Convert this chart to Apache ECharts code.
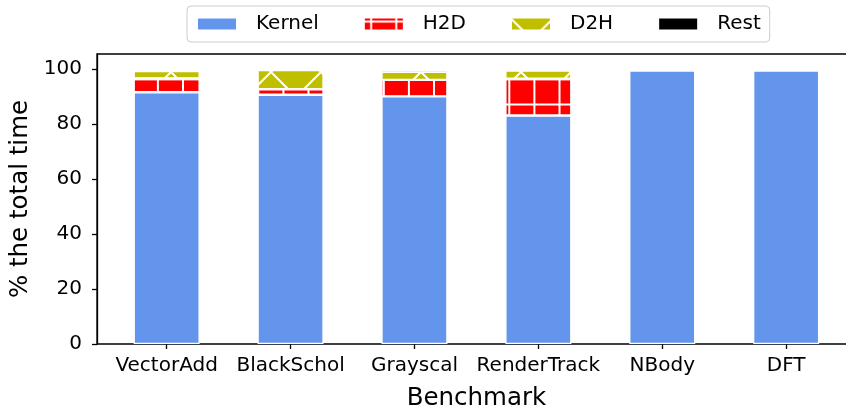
<!DOCTYPE html>
<html>
<head>
<meta charset="utf-8">
<script src="https://cdn.jsdelivr.net/npm/echarts@6/dist/echarts.min.js"></script>
<style>
html,body{margin:0;padding:0;background:#fff;}
#chart{width:846px;height:410px;}
</style>
</head>
<body>
<div id="chart"></div>
<script>
// ---- data ----
const categories = ['VectorAdd', 'BlackSchol', 'Grayscal', 'RenderTrack', 'NBody', 'DFT'];
const kernel = [91.6, 90.7, 90.1, 83.1, 99.5, 99.5];
const h2d    = [5.0, 2.0, 6.0, 13.4, 0, 0];
const d2h    = [2.7, 7.0, 2.9, 3.0, 0, 0];
const rest   = [0, 0, 0.7, 0, 0, 0];
const seriesNames = ['Kernel', 'H2D', 'D2H', 'Rest'];
const yTicks = [0, 20, 40, 60, 80, 100];

// ---- hatch patterns ----
function gridPattern() {
  const P = 25.1, W = 251;
  const c = document.createElement('canvas');
  c.width = W; c.height = W;
  const g = c.getContext('2d');
  g.fillStyle = '#ff0000'; g.fillRect(0, 0, W, W);
  g.fillStyle = '#ffffff';
  for (let k = -1; k <= 10; k++) {
    const x = 7.3 + k * P, y = 4.1 + k * P;
    g.fillRect(x - 1, 0, 2, W);
    g.fillRect(0, y - 1, W, 2);
  }
  return c;
}
function crossPattern() {
  const P = 50;
  const c = document.createElement('canvas');
  c.width = P; c.height = P;
  const g = c.getContext('2d');
  g.fillStyle = '#bfbf00'; g.fillRect(0, 0, P, P);
  g.strokeStyle = '#ffffff'; g.lineWidth = 2;
  for (let k = -2; k <= 2; k++) {
    const a = -1 + k * P;
    g.beginPath(); g.moveTo(a - 20, -20); g.lineTo(a + 80, 80); g.stroke();
    const b = 43 + k * P;
    g.beginPath(); g.moveTo(b + 20, -20); g.lineTo(b - 80, 80); g.stroke();
  }
  return c;
}

const fills = [
  '#6495ed',
  { image: gridPattern(), repeat: 'repeat' },
  { image: crossPattern(), repeat: 'repeat' },
  '#000000'
];
const values = [kernel, h2d, d2h, rest];

const font = 'DejaVu Sans';
const chart = echarts.init(document.getElementById('chart'), null, { renderer: 'canvas' });

const series = seriesNames.map((name, si) => ({
  name: name,
  type: 'bar',
  stack: 'total',
  xAxisIndex: 1,
  yAxisIndex: 1,
  barWidth: 66,
  data: values[si].map(v => (v === 0 ? '-' : v)),
  itemStyle: { color: fills[si], borderColor: '#ffffff', borderWidth: 1.2 },
  emphasis: { disabled: true }
}));

chart.setOption({
  animation: false,
  backgroundColor: '#ffffff',
  textStyle: { fontFamily: font },
  legend: {
    data: seriesNames,
    left: 187, top: 6,
    orient: 'horizontal',
    itemWidth: 40, itemHeight: 13, itemGap: 44,
    icon: 'rect',
    padding: [8, 9, 8, 9],
    borderColor: '#cccccc', borderWidth: 1, borderRadius: 4,
    backgroundColor: '#ffffff',
    textStyle: { fontFamily: font, fontSize: 20, color: '#000', padding: [0, 0, 0, 14] }
  },
  grid: [
    { // frame
      left: 97, top: 54, right: -10, bottom: 66,
      outerBoundsMode: 'none', containLabel: false,
      show: true, borderColor: '#000', borderWidth: 1.3, backgroundColor: 'transparent'
    },
    { // bars
      left: 104.7, width: 743.4, top: 54, bottom: 66,
      outerBoundsMode: 'none', containLabel: false, show: false
    }
  ],
  xAxis: [
    { gridIndex: 0, type: 'value', min: 0, max: 1, show: false },
    {
      gridIndex: 1,
      type: 'category',
      data: categories,
      boundaryGap: true,
      axisLine: { show: false },
      axisTick: { show: true, alignWithLabel: true, length: 5, lineStyle: { color: '#000', width: 1.3 } },
      axisLabel: { fontFamily: font, fontSize: 20, color: '#000', margin: 12, interval: 0 },
      splitLine: { show: false },
      name: 'Benchmark', nameLocation: 'middle', nameGap: 42,
      nameTextStyle: { fontFamily: font, fontSize: 24.5, color: '#000' }
    }
  ],
  yAxis: [
    {
      gridIndex: 0,
      type: 'value',
      min: 0, max: 105.5,
      axisLine: { show: true, lineStyle: { color: '#000', width: 1.3 } },
      axisTick: { show: true, length: 5, lineStyle: { color: '#000', width: 1.3 }, customValues: yTicks },
      axisLabel: { customValues: yTicks, fontFamily: font, fontSize: 20, color: '#000', margin: 15 },
      splitLine: { show: false },
      name: '% the total time', nameLocation: 'middle', nameGap: 56, nameRotate: 90,
      nameTextStyle: { fontFamily: font, fontSize: 24.5, color: '#000' }
    },
    { gridIndex: 1, type: 'value', min: 0, max: 105.5, show: false }
  ],
  series: series
});
</script>
</body>
</html>
